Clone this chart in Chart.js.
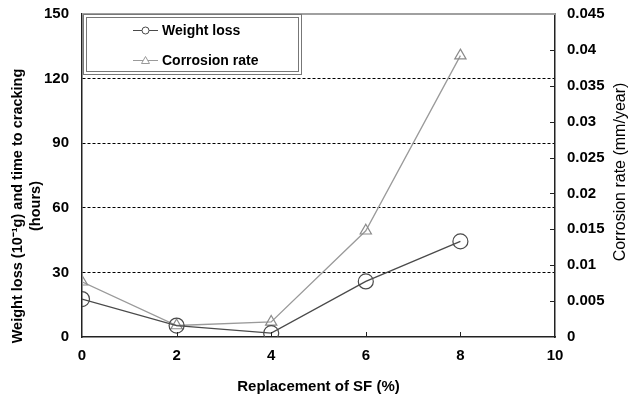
<!DOCTYPE html>
<html>
<head>
<meta charset="utf-8">
<script src="https://cdn.jsdelivr.net/npm/chart.js@4.4.1/dist/chart.umd.min.js"></script>
<style>
  html, body { margin: 0; padding: 0; background: #fff; }
  #wrap { width: 630px; height: 400px; position: relative; }
</style>
</head>
<body>
<div id="wrap"><canvas id="chart" width="630" height="400"></canvas></div>
<script>
const replacementSF = [0, 2, 4, 6, 8];
const weightLoss = [17.6, 5.3, 1.8, 25.8, 44.4];
const corrosionRate = [0.0077, 0.0016, 0.0021, 0.0148, 0.0392];
const xTicks = [0, 2, 4, 6, 8, 10];
const leftTicks = [0, 30, 60, 90, 120, 150];
const rightTicks = [0, 0.005, 0.01, 0.015, 0.02, 0.025, 0.03, 0.035, 0.04, 0.045];
const leftTitle = ['Weight loss (10\u207B\u00B9g) and time to cracking', '(hours)'];
const rightTitle = 'Corrosion rate (mm/year)';

const FONT = 'Liberation Sans, Arial, sans-serif';
const boldTick = { family: FONT, size: 15, weight: 'bold' };

function vText(ctx, text, x, y, font) {
    ctx.save();
    ctx.font = font;
    ctx.fillStyle = '#000';
    ctx.textAlign = 'center';
    ctx.textBaseline = 'middle';
    ctx.translate(x, y);
    ctx.rotate(-Math.PI / 2);
    ctx.fillText(text, 0, 0);
    ctx.restore();
}

// frame, inside tick marks, axis titles and legend box
const extras = {
    id: 'extras',
    afterDraw(chart) {
        const { ctx, chartArea: a, scales } = chart;
        ctx.save();
        ctx.strokeStyle = '#a0a0a0';
        ctx.lineWidth = 2;
        ctx.beginPath();
        ctx.moveTo(a.left, a.top);
        ctx.lineTo(a.right, a.top);
        ctx.stroke();

        ctx.strokeStyle = '#222';
        ctx.lineWidth = 1;
        ctx.beginPath();
        xTicks.slice(1, -1).forEach(v => {
            const x = Math.round(scales.x.getPixelForValue(v)) + 0.5;
            ctx.moveTo(x, a.bottom);
            ctx.lineTo(x, a.bottom - 5);
        });
        rightTicks.slice(1, -1).forEach(v => {
            const y = Math.round(scales.y1.getPixelForValue(v)) + 0.5;
            ctx.moveTo(a.right, y);
            ctx.lineTo(a.right - 5, y);
        });
        ctx.stroke();
        ctx.restore();

        vText(ctx, leftTitle[0], 18, 206, 'bold 14.5px ' + FONT);
        vText(ctx, leftTitle[1], 36, 206, 'bold 14.5px ' + FONT);
        vText(ctx, rightTitle, 621, 172, '16px ' + FONT);

        // legend
        ctx.save();
        const bx = 83, by = 14, bw = 218, bh = 60;
        ctx.fillStyle = '#fff';
        ctx.fillRect(bx, by, bw, bh);
        ctx.strokeStyle = '#777';
        ctx.lineWidth = 1;
        ctx.strokeRect(bx + 0.5, by + 0.5, bw, bh);
        ctx.strokeRect(bx + 3.5, by + 3.5, bw - 6, bh - 6);
        chart.data.datasets.forEach((ds, i) => {
            const y = by + 16 + i * 30;
            ctx.strokeStyle = ds.borderColor;
            ctx.beginPath();
            ctx.moveTo(133, y + 0.5);
            ctx.lineTo(158, y + 0.5);
            ctx.stroke();
            ctx.beginPath();
            if (ds.pointStyle === 'circle') {
                ctx.arc(145.5, y + 0.5, 3.5, 0, Math.PI * 2);
            } else {
                ctx.moveTo(145.5, y - 3.5);
                ctx.lineTo(149.5, y + 3.5);
                ctx.lineTo(141.5, y + 3.5);
                ctx.closePath();
            }
            ctx.fillStyle = '#fff';
            ctx.fill();
            ctx.stroke();
            ctx.fillStyle = '#000';
            ctx.font = 'bold 14px ' + FONT;
            ctx.textAlign = 'left';
            ctx.textBaseline = 'middle';
            ctx.fillText(ds.label, 162, y + 1);
        });
        ctx.restore();
    }
};

new Chart(document.getElementById('chart'), {
    type: 'line',
    data: {
        datasets: [
            {
                label: 'Weight loss',
                data: replacementSF.map((x, i) => ({ x, y: weightLoss[i] })),
                yAxisID: 'y',
                borderColor: '#4a4a4a',
                borderWidth: 1.3,
                pointStyle: 'circle',
                pointRadius: 7.5,
                pointBorderColor: '#4a4a4a',
                pointBackgroundColor: 'rgba(0,0,0,0)',
                pointBorderWidth: 1.2
            },
            {
                label: 'Corrosion rate',
                data: replacementSF.map((x, i) => ({ x, y: corrosionRate[i] })),
                yAxisID: 'y1',
                borderColor: '#9a9a9a',
                borderWidth: 1.3,
                pointStyle: 'triangle',
                pointRadius: 6.5,
                pointBorderColor: '#8a8a8a',
                pointBackgroundColor: 'rgba(0,0,0,0)',
                pointBorderWidth: 1.2
            }
        ]
    },
    options: {
        responsive: false,
        animation: false,
        layout: { padding: { top: 14, left: 0, right: 0, bottom: 0 } },
        plugins: { legend: { display: false }, tooltip: { enabled: false } },
        scales: {
            x: {
                type: 'linear',
                min: 0, max: 10,
                afterBuildTicks: s => { s.ticks = xTicks.map(v => ({ value: v })); },
                afterFit: s => { s.height = 63; s.paddingLeft = 0; s.paddingRight = 0; },
                grid: { display: true, drawOnChartArea: false, drawTicks: false },
                border: { color: '#222', width: 1.5 },
                ticks: { color: '#000', font: boldTick, padding: 10 },
                title: { display: true, text: 'Replacement of SF (%)', color: '#000', font: { family: FONT, size: 15, weight: 'bold' }, padding: { top: 5 } }
            },
            y: {
                position: 'left',
                min: 0, max: 150,
                afterBuildTicks: s => { s.ticks = leftTicks.map(v => ({ value: v })); },
                afterFit: s => { s.width = 82; s.paddingTop = 0; s.paddingBottom = 0; },
                grid: {
                    drawTicks: false,
                    color: c => (c.tick && c.tick.value > 0 && c.tick.value < 150) ? '#000' : 'rgba(0,0,0,0)',
                    lineWidth: 1
                },
                border: { color: '#222', width: 1.5, dash: [3, 2] },
                ticks: { color: '#000', font: boldTick, padding: 13 }
            },
            y1: {
                position: 'right',
                min: 0, max: 0.045,
                afterBuildTicks: s => { s.ticks = rightTicks.map(v => ({ value: v })); },
                afterFit: s => { s.width = 75; s.paddingTop = 0; s.paddingBottom = 0; },
                grid: { drawOnChartArea: false, drawTicks: false },
                border: { color: '#222', width: 1.5 },
                ticks: { color: '#000', font: boldTick, padding: 12, callback: v => String(+v.toFixed(3)) }
            }
        }
    },
    plugins: [extras]
});
</script>
</body>
</html>
